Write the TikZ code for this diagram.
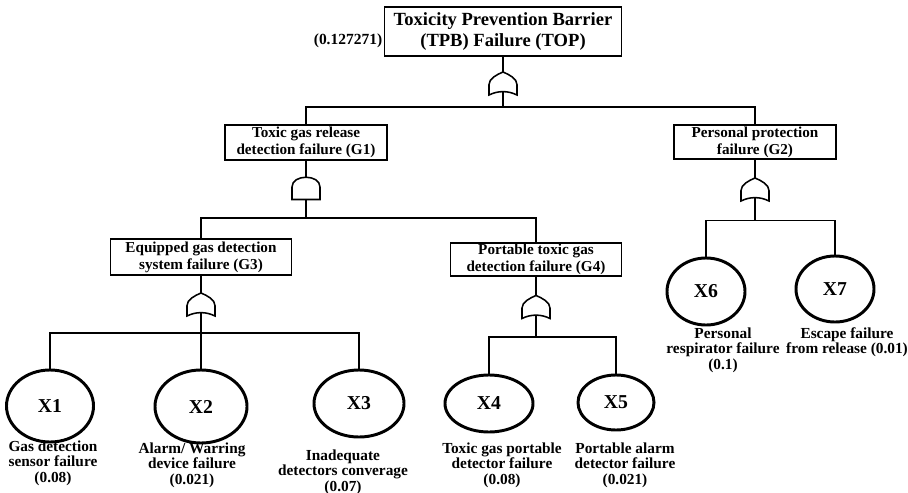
\documentclass[tikz,border=0pt]{standalone}
\usepackage{fontspec}
\setmainfont{Liberation Serif}
\usetikzlibrary{calc, positioning, shapes.geometric}

\tikzset{
    eventbox/.style={draw, line width=1.3pt, rectangle, align=center, inner sep=0pt,
        font=\fontsize{10.8}{12}\selectfont\bfseries},
    topbox/.style={eventbox, font=\fontsize{13.2}{14.4}\selectfont\bfseries},
    basic/.style={draw, line width=2.1pt, ellipse, inner sep=0pt,
        font=\fontsize{14}{15}\selectfont\bfseries},
    basiclabel/.style={align=center, inner sep=0pt,
        font=\fontsize{10.9}{10.9}\selectfont\bfseries},
    link/.style={line width=1.1pt},
    orgate/.pic={
        \draw[line width=1.1pt] (-14,11.5) -- (-14,1)
            .. controls (-14,-5) and (-6,-9) .. (0,-11.5)
            .. controls (6,-9) and (14,-5) .. (14,1) -- (14,11.5)
            .. controls (5,7) and (-5,7) .. (-14,11.5) -- cycle;
        \coordinate (-in) at (0,-11.5);
        \coordinate (-out) at (0,8);
    },
    andgate/.pic={
        \draw[line width=1.1pt] (-14,11.5) -- (-14,-1)
            .. controls (-14,-14) and (14,-14) .. (14,-1) -- (14,11.5) -- cycle;
        \coordinate (-in) at (0,-11);
        \coordinate (-out) at (0,11.5);
    }
}

\begin{document}
\begin{tikzpicture}[x=0.025cm, y=-0.025cm]
    \useasboundingbox (0,0) rectangle (908,493);

    % Top event
    \node[topbox, minimum width=5.925cm, minimum height=1.225cm] (top) at (503,31.5)
        {Toxicity Prevention Barrier\\(TPB) Failure (TOP)};
    \node[font=\fontsize{11}{12}\selectfont\bfseries, inner sep=0pt] (ptop) at (348,41) {(0.127271)};
    \pic (g0) at (503,83.5) {orgate};

    % Intermediate events
    \node[eventbox, minimum width=4.05cm, minimum height=0.875cm] (G1) at (306,142.5)
        {Toxic gas release\\detection failure (G1)};
    \node[eventbox, minimum width=4.05cm, minimum height=0.85cm] (G2) at (755,142)
        {Personal protection\\failure (G2)};
    \node[eventbox, minimum width=4.525cm, minimum height=0.9cm] (G3) at (201,257)
        {Equipped gas detection\\system failure (G3)};
    \node[eventbox, minimum width=4.275cm, minimum height=0.825cm] (G4) at (536,259.5)
        {Portable toxic gas\\detection failure (G4)};

    \pic (g1) at (306,188) {andgate};
    \pic (g2) at (755,189.5) {orgate};
    \pic (g3) at (201,304.5) {orgate};
    \pic (g4) at (536,307) {orgate};

    % Basic events
    \node[basic, minimum width=2.175cm, minimum height=1.8cm] (X1) at (50,406) {X1};
    \node[basic, minimum width=2.3cm, minimum height=1.825cm] (X2) at (201,406.5) {X2};
    \node[basic, minimum width=2.25cm, minimum height=1.675cm] (X3) at (359,403.5) {X3};
    \node[basic, minimum width=2.2cm, minimum height=1.425cm] (X4) at (489,403.5) {X4};
    \node[basic, minimum width=1.9cm, minimum height=1.375cm] (X5) at (616,402.5) {X5};
    \node[basic, minimum width=1.95cm, minimum height=1.675cm] (X6) at (706,291.5) {X6};
    \node[basic, minimum width=1.95cm, minimum height=1.65cm] (X7) at (835,289) {X7};

    \node[basiclabel] (l1) at (53,463) {Gas detection\\sensor failure\\(0.08)};
    \node[basiclabel] (l2) at (192,465) {Alarm/ Warring\\device failure\\(0.021)};
    \node[basiclabel] (l3) at (343,472) {Inadequate\\detectors converage\\(0.07)};
    \node[basiclabel] (l4) at (502,465) {Toxic gas portable\\detector failure\\(0.08)};
    \node[basiclabel] (l5) at (625,465) {Portable alarm\\detector failure\\(0.021)};
    \node[basiclabel] (l6) at (723,350) {Personal\\respirator failure\\(0.1)};
    \node[basiclabel] (l7) at (847,342.5) {Escape failure\\from release (0.01)};

    % Connectors
    \draw[link] (top.south) -- (g0-in);
    \draw[link] (g0-out) -- ++(0,15.5) coordinate (b0) -| (G1.north);
    \draw[link] (b0) -| (G2.north);

    \draw[link] (G1.south) -- (g1-in);
    \draw[link] (g1-out) -- ++(0,18.5) coordinate (b1) -| (G3.north);
    \draw[link] (b1) -| (G4.north);

    \draw[link] (G2.south) -- (g2-in);
    \draw[link] (g2-out) -- ++(0,23) coordinate (b2) -| (X6.north);
    \draw[link] (b2) -| (X7.north);

    \draw[link] (G3.south) -- (g3-in);
    \draw[link] (g3-out) -- ++(0,20.5) coordinate (b3) -| (X1.north);
    \draw[link] (b3) -- (X2.north);
    \draw[link] (b3) -| (X3.north);

    \draw[link] (G4.south) -- (g4-in);
    \draw[link] (g4-out) -- ++(0,22) coordinate (b4) -| (X4.north);
    \draw[link] (b4) -| (X5.north);
\end{tikzpicture}
\end{document}
